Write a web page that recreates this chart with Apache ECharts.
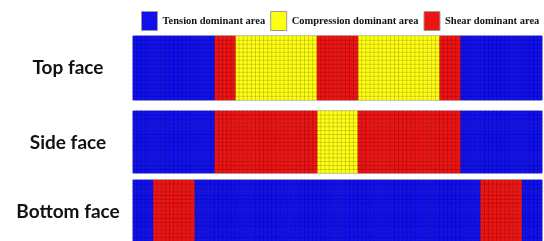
<!DOCTYPE html>
<html>
<head>
    <meta charset="utf-8">
    <script src="https://cdn.jsdelivr.net/npm/echarts@6/dist/echarts.min.js"></script>
    <style>body{margin:0;background:#fff;}</style>
</head>
<body>
    <div id="main" style="width: 544px;height:241px;"></div>
    <script type="text/javascript">

    // area types: 0 tension, 1 compression, 2 shear
    var areaNames = ['Tension dominant area', 'Compression dominant area', 'Shear dominant area'];
    var areaColors = ['#1010ee', '#ffff14', '#ee1414'];

    var faceNames = ['Top face', 'Side face', 'Bottom face'];
    // each face: region type and its share (%) of the length, left to right
    var topTypes = [0, 2, 1, 2, 1, 2, 0];
    var topWidths = [20, 5, 20, 10, 20, 5, 20];
    var sideTypes = [0, 2, 1, 2, 0];
    var sideWidths = [20, 25, 10, 25, 20];
    var bottomTypes = [0, 2, 0, 2, 0];
    var bottomWidths = [5, 10, 70, 10, 5];

    // mesh size
    var meshCols = 100;
    var meshRows = 16;

    var faceTypes = [topTypes, sideTypes, bottomTypes];
    var faceWidths = [topWidths, sideWidths, bottomWidths];
    var gridTops = [36, 111, 180];
    var gridHeights = [64, 62, 64];

    var myChart = echarts.init(document.getElementById('main'));

    var colIdx = [], rowIdx = [];
    for (var i = 0; i < meshCols; i++) colIdx.push(i);
    for (var j = 0; j < meshRows; j++) rowIdx.push(j);

    var grids = [], xAxes = [], yAxes = [], series = [], texts = [];

    faceNames.forEach(function (name, f) {
        grids.push({
            left: 133, width: 409, top: gridTops[f], height: gridHeights[f],
            show: true, borderColor: '#b4b8dc', borderWidth: 1
        });
        xAxes.push({ type: 'category', gridIndex: f, data: colIdx, show: false });
        yAxes.push({ type: 'category', gridIndex: f, data: rowIdx, show: false });

        // cells per area type
        var cells = [[], [], []];
        var start = 0;
        faceTypes[f].forEach(function (t, k) {
            var end = start + faceWidths[f][k] * meshCols / 100;
            for (var c = start; c < end; c++) {
                for (var r = 0; r < meshRows; r++) cells[t].push([c, r, 1]);
            }
            start = end;
        });
        for (var t = 0; t < 3; t++) {
            series.push({
                name: areaNames[t],
                type: 'heatmap',
                xAxisIndex: f,
                yAxisIndex: f,
                data: cells[t],
                itemStyle: { color: areaColors[t], borderColor: 'rgba(0,0,0,0.28)', borderWidth: 0.5 },
                emphasis: { disabled: true },
                silent: true,
                animation: false
            });
        }

        texts.push({
            type: 'text',
            x: 68,
            y: gridTops[f] + 32,
            style: {
                text: name,
                font: 'bold 19px Lato',
                fill: '#111',
                textAlign: 'center',
                textVerticalAlign: 'middle'
            }
        });
    });

    myChart.setOption({
        animation: false,
        legend: {
            data: areaNames,
            top: 11,
            left: 141,
            width: 403,
            padding: 0,
            icon: 'rect',
            itemWidth: 16,
            itemHeight: 19,
            itemGap: 5,
            itemStyle: { borderColor: '#999', borderWidth: 1 },
            textStyle: { fontFamily: 'Liberation Serif', fontWeight: 'bold', fontSize: 10.5, color: '#111' },
            selectedMode: false
        },
        grid: grids,
        xAxis: xAxes,
        yAxis: yAxes,
        series: series,
        graphic: texts
    });

</script>
</body>
</html>
